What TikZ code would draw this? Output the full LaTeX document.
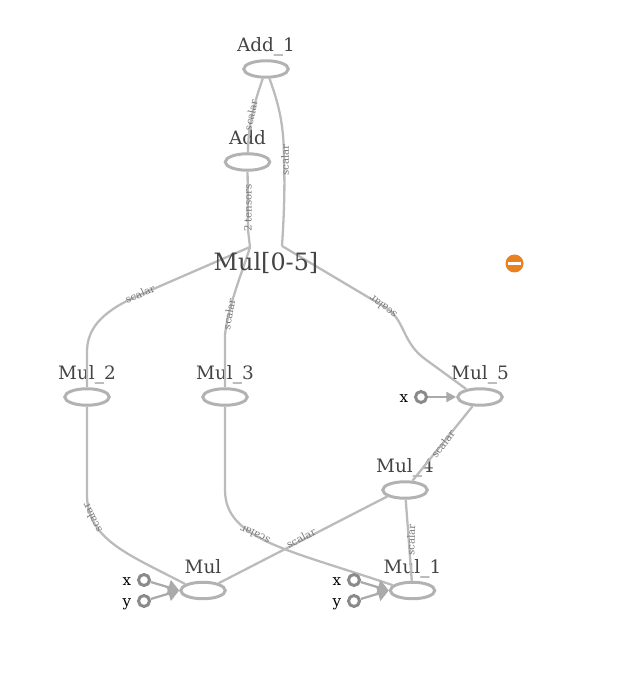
\documentclass[tikz,border=0pt]{standalone}
\usepackage{fontspec}
\setmainfont{DejaVu Serif}
\usetikzlibrary{arrows.meta, positioning, shapes.geometric}

\definecolor{opline}{HTML}{B2B2B2}
\definecolor{edgeline}{HTML}{BBBBBB}
\definecolor{portline}{HTML}{8A8A8A}
\definecolor{tipfill}{HTML}{AAAAAA}
\definecolor{nametext}{HTML}{444444}
\definecolor{edgetext}{HTML}{777777}
\definecolor{removefill}{HTML}{E8811E}

\begin{document}
\begin{tikzpicture}[x=0.02cm, y=-0.02cm,
   op/.style={ellipse, draw=opline, line width=1.7pt, minimum width=0.89cm, minimum height=0.33cm, inner sep=0pt},
   opname/.style={inner sep=0pt, text=nametext, font=\fontsize{10.5}{12}\selectfont, text height=8pt, text depth=0pt},
   port/.style={circle, draw=portline, line width=1.7pt, minimum size=0.22cm, inner sep=0pt},
   portname/.style={inner sep=0pt, text=black, font=\fontsize{8.6}{10}\selectfont, text height=7.2pt, text depth=0.6pt},
   flow/.style={draw=edgeline, line width=1.3pt},
   feed/.style={draw=tipfill, line width=1.3pt, -{Triangle[length=6.3pt, width=8.4pt, fill=tipfill]}},
   feedsmall/.style={draw=tipfill, line width=1.3pt, -{Triangle[length=5.7pt, width=5.7pt, fill=tipfill]}},
   tag/.style={inner sep=0pt, text=edgetext, font=\fontsize{5.8}{7}\selectfont}]
  \useasboundingbox (0,0) rectangle (642,695);

  % operations
  \foreach \n/\px/\py/\t in {add1/266/69/Add\_1, add/247.5/162/Add, mul2/87/397/Mul\_2,
      mul3/225/397/Mul\_3, mul5/480/397/Mul\_5, mul4/405/490/Mul\_4,
      mul/203/590.5/Mul, mul1/412.5/590.5/Mul\_1} {
     \node[op] (\n) at (\px,\py) {};
     \node[opname, above=4.2pt of \n] (\n-name) {\t};
  }

  % group title and where its edges meet
  \coordinate (groupin) at (250,247);
  \coordinate (groupout) at (282,246);

  % edges
  \draw[flow] (add1) .. controls (254,104) and (248,125) .. (248,153);
  \draw[flow] (add1) .. controls (279,105) and (284,125) .. (284,160) .. controls (285,190) and (284,215) .. (groupout);
  \draw[flow] (add) -- (248,230) -- (groupin);
  \draw[flow] (groupin) -- (135,297) .. controls (100,313) and (87,330) .. (87,352) -- (mul2);
  \draw[flow] (groupin) .. controls (245,265) and (228,305) .. (225,335) -- (mul3);
  \draw[flow] (groupout) -- (388,309) .. controls (405,322) and (403,343) .. (425,359) -- (mul5.150);
  \draw[flow] (mul5) -- (mul4);
  \draw[flow] (mul4) -- (mul1);
  \draw[flow] (mul4.200) -- (mul.25);
  \draw[flow] (mul2) -- (87,495) .. controls (87,540) and (130,555) .. (mul.160);
  \draw[flow] (mul3) -- (225,490) .. controls (225,540) and (290,550) .. (mul1.165);

  % inputs
  \node[port] (mulx) at (144,580) {};  \node[port] (muly) at (144,601) {};
  \node[port] (mul1x) at (354,580) {}; \node[port] (mul1y) at (354,601) {};
  \node[port] (mul5x) at (421,397) {};
  \foreach \p/\t in {mulx/x, muly/y, mul1x/x, mul1y/y, mul5x/x}
     \node[portname, left=3.2pt of \p] (\p-name) {\t};
  \foreach \s/\t in {mulx/mul, muly/mul, mul1x/mul1, mul1y/mul1}
     \draw[feed] (\s) -- (\t.west);
  \draw[feedsmall] (mul5x) -- (mul5.west);

  % edge tags
  \foreach \n/\px/\py/\r/\t in {t1/251/115/78/scalar, t2/285/160/90/scalar, t3/248/208/90/2 tensors,
      t4/140/294/24/scalar, t5/229/314/80/scalar, t6/383/307/142/scalar, t7/443/444/52/scalar,
      t8/411/540/88/scalar, t9/301/538/27/scalar, t10/92/518/116/scalar, t11/255/535/155/scalar}
     \node[tag, rotate=\r] (\n) at (\px,\py) {\t};

  \node[inner sep=0pt, text=nametext, font=\fontsize{13.6}{16}\selectfont] (group) at (266,262.5) {Mul[0-5]};

  % remove button
  \node[circle, fill=removefill, minimum size=0.36cm, inner sep=0pt] (remove) at (514.5,263.5) {};
  \node[fill=white, minimum width=0.26cm, minimum height=0.06cm, inner sep=0pt] (removebar) at (remove) {};
\end{tikzpicture}
\end{document}
